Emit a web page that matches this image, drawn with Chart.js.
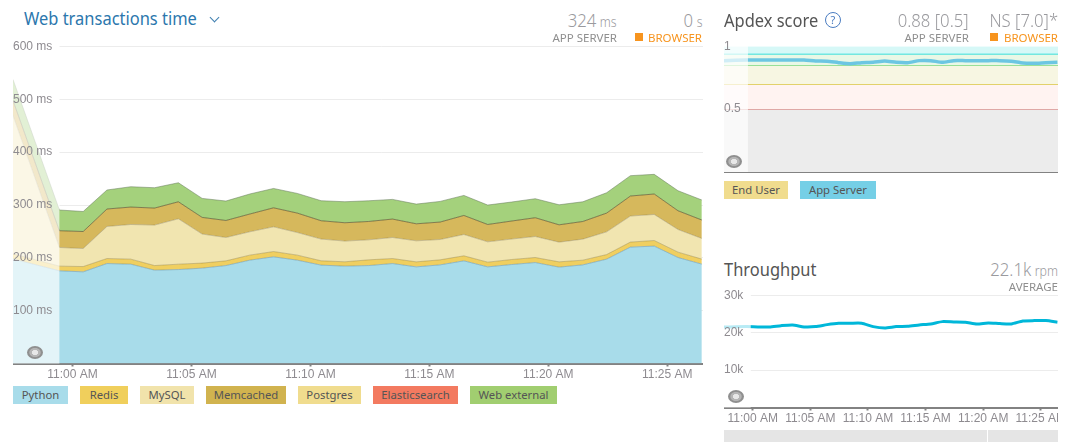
<!DOCTYPE html>
<html><head><meta charset="utf-8">
<script src="https://cdn.jsdelivr.net/npm/chart.js@4"></script>
<style>
html,body{margin:0;padding:0;background:#fff;overflow:hidden;width:1071px;height:442px}
body{font-family:"Noto Sans",sans-serif;position:relative}
.a{position:absolute;white-space:nowrap;line-height:1}
canvas{position:absolute;display:block}
.h{font-size:18.5px;color:#555;transform:translateY(-50%) scaleX(.89);transform-origin:left center}
.n{font-size:19px;color:#9a9a9e;font-weight:300;transform:translateY(-50%) scaleX(.88);transform-origin:right center}
.n small{font-size:14px;margin-left:4px}
.l{font-size:11.5px;color:#8f8f8f;transform:translateY(-50%)}
.o{color:#f7941e}
.sq{position:absolute;width:8px;height:8px;background:#f7941e}
.chip{position:absolute;height:18px;line-height:18px;text-align:center;font-size:11.3px;color:#555;white-space:nowrap}
.eye{position:absolute;width:16px;height:13px;border-radius:50%;background:radial-gradient(ellipse at center,#e8e8e8 0 25%,#b5b5b5 30% 45%,#8f8f8f 55%)}
</style></head><body>
<canvas id="c1" width="690" height="349" style="left:13px;top:36px"></canvas>
<canvas id="c2" width="334" height="140" style="left:724px;top:36px"></canvas>
<canvas id="c3" width="334" height="145" style="left:724px;top:285px"></canvas>

<div class="a h" style="left:24px;top:18px;color:#2b77ad">Web transactions time</div>
<div class="a" style="left:211px;top:14px;width:6px;height:6px;border-right:1.2px solid #3f7fb0;border-bottom:1.2px solid #3f7fb0;transform:rotate(45deg)"></div>
<div class="a n" style="right:454px;top:20px">324<small>ms</small></div>
<div class="a n" style="right:369px;top:20px">0<small>s</small></div>
<div class="a l" style="right:454px;top:38px">APP SERVER</div>
<div class="sq" style="left:635px;top:33px"></div>
<div class="a l o" style="right:369px;top:38px">BROWSER</div>

<div class="a h" style="left:724px;top:20px">Apdex score</div>
<div class="a" style="left:825px;top:12px;width:14px;height:14px;border:1.2px solid #4a7cc0;border-radius:50%;color:#4a7cc0;font-size:11px;line-height:14px;text-align:center">?</div>
<div class="a n" style="right:102px;top:20px">0.88 [0.5]</div>
<div class="a n" style="right:13px;top:20px">NS [7.0]*</div>
<div class="a l" style="right:102px;top:38px">APP SERVER</div>
<div class="sq" style="left:990px;top:33px"></div>
<div class="a l o" style="right:13px;top:38px">BROWSER</div>

<div class="a h" style="left:724px;top:269px">Throughput</div>
<div class="a n" style="right:13px;top:269px">22.1k<small>rpm</small></div>
<div class="a l" style="right:13px;top:287px">AVERAGE</div>

<div class="eye" style="left:27px;top:346px"></div>
<div class="eye" style="left:726px;top:155px"></div>
<div class="eye" style="left:728px;top:390px"></div>
<div id="legend1"></div><div id="legend2"></div>
<div style="position:absolute;left:724px;top:430px;width:263px;height:12px;background:#e5e5e5"></div>
<div style="position:absolute;left:988px;top:430px;width:70px;height:12px;background:#e5e5e5"></div>

<script>
// ---------- data (minutes relative to 11:00 AM) ----------
const minutes = [-2.5,-0.55,0.45,1.45,2.45,3.45,4.45,5.45,6.45,7.45,8.45,9.45,10.45,11.45,12.45,13.45,14.45,15.45,16.45,17.45,18.45,19.45,20.45,21.45,22.45,23.45,24.45,25.45,26.45];
const python = [198,175.4,173.5,189.2,188,176.7,177.8,180.5,185.4,195.6,201.9,195.6,186.2,184.3,185.4,189.2,182.9,186.7,194.3,182.9,187.3,191.1,182.4,186.7,197.5,220.3,222.2,200.6,188.1];
const redis = [9.5,8.9,10,9.5,9.5,8.7,10.2,9.5,8.9,9.5,10,9.5,8.2,8.2,10.8,9.5,9.5,9.5,9.5,8.9,9.5,9.5,10,8.9,8.7,9.5,10.6,10.2,9.5];
const mysql = [262,35.3,34.1,60.7,65.6,76.6,85.9,55,44.2,44.2,46.8,42.8,41.1,39.2,37.9,39.8,39.8,38.5,40.4,38.5,38.7,39.8,37.3,39.8,43,49.3,49.3,42.8,39.1];
const memcached = [28,31.7,32.2,33,33,32.2,32.2,31.5,32.2,33.6,36,36.8,34.7,34.7,34.7,34.9,32.2,33,36,32.8,34.1,35.5,32.8,33.4,35.5,37.9,38.7,35.5,34.9];
const postgres = [0,0,0,0,0,0,0,0,0,0,0,0,0,0,0,0,0,0,0,0,0,0,0,0,0,0,0,0,0];
const elasticsearch = [0,0,0,0,0,0,0,0,0,0,0,0,0,0,0,0,0,0,0,0,0,0,0,0,0,0,0,0,0];
const webExternal = [40,39.2,37.9,36,38.5,38.5,36,36,36.8,37.9,36.6,37.2,37.9,39.8,39.2,37.2,37.3,39.1,37.9,36.8,36,36,37.9,37.3,38.5,38.5,37.2,37.9,37.9];
const apdexAppServer = [0.886,0.891,0.891,0.891,0.891,0.891,0.891,0.883,0.881,0.870,0.862,0.870,0.873,0.883,0.873,0.870,0.886,0.886,0.873,0.886,0.886,0.886,0.886,0.886,0.881,0.867,0.865,0.870,0.873];
const throughputK = [21.5,21.63,21.55,21.55,21.89,22.08,21.55,21.63,22.16,22.53,22.53,22.53,21.63,21.28,21.63,21.73,22.08,22.35,22.96,22.88,22.8,22.35,22.61,22.43,22.35,23.15,23.23,23.23,22.8];
const apdexBands = [0.5,0.7,0.85,0.94,1];
const transactionTicks = [100,200,300,400,500,600];
const tickFont = {family:'"Liberation Sans",Arial,sans-serif',size:12};
const tickGray = '#8e8b90';

const minuteLabel = v => { const m = ((v%60)+60)%60; return '11:'+String(m).padStart(2,'0')+' AM'; };
const pts = arr => arr.map((v,i)=>({x:minutes[i],y:v}));

// paints the horizontal grid only right of the faded region, then fades that region
const fadePlugin = {
  id:'fade',
  beforeDatasetsDraw(ch,a,o){
    const {ctx,chartArea:c,scales:{x,y}} = ch;
    if(!o.grid) return;
    const l = x.getPixelForValue(o.until);
    ctx.save();ctx.strokeStyle=o.grid;ctx.lineWidth=1;
    y.ticks.forEach(t=>{ if(t.value===0) return;
      const p=Math.floor(y.getPixelForValue(t.value))+0.5;
      ctx.beginPath();ctx.moveTo(l,p);ctx.lineTo(c.right,p);ctx.stroke();});
    ctx.restore();
  },
  afterDatasetsDraw(ch,a,o){
    const {ctx,chartArea:c,scales:{x}} = ch;
    ctx.save();ctx.fillStyle='rgba(255,255,255,'+o.alpha+')';
    ctx.fillRect(c.left,c.top-1,x.getPixelForValue(o.until)-c.left,c.bottom-c.top+1);
    ctx.restore();
  }
};
Chart.register(fadePlugin);

function xAxis(labels,h){return{
  type:'linear',min:-2.5,max:26.5,
  border:{color:'#828282',width:2},
  grid:{drawOnChartArea:false,drawTicks:labels,tickLength:3,tickColor:'#828282',tickWidth:2},
  afterFit(s){s.height=h;s.paddingLeft=0;s.paddingRight=0;},
  ticks:{display:labels,stepSize:5,includeBounds:false,maxRotation:0,autoSkip:false,padding:1,font:tickFont,color:tickGray,callback:minuteLabel}
};}
function yAxis(max,step,cb){return{
  min:0,max:max,stacked:false,position:'left',
  border:{display:false},grid:{display:false},
  afterFit(s){s.width=0;s.paddingTop=0;s.paddingBottom=0;},
  ticks:{mirror:true,padding:0,z:1,stepSize:step,includeBounds:false,font:tickFont,color:tickGray,callback:cb}
};}
const base = {responsive:false,animation:false,devicePixelRatio:1,events:[]};

// ---------- Web transactions time ----------
const stackDefs = [
  ['Python',python,'#a8dcea','rgba(90,130,150,.45)'],
  ['Redis',redis,'#f0cf60','rgba(120,110,60,.35)'],
  ['MySQL',mysql,'#f1e5b0','rgba(120,110,70,.35)'],
  ['Memcached',memcached,'#d6b85c','rgba(70,70,40,.6)'],
  ['Postgres',postgres,'#f0dc8e',null],
  ['Elasticsearch',elasticsearch,'#f37a60',null],
  ['Web external',webExternal,'#a4d17c','rgba(100,120,90,.5)']
];
const yStack = yAxis(600,100,v=>transactionTicks.includes(v)?v+' ms':'');
yStack.stacked = true;
new Chart(document.getElementById('c1'),{type:'line',
  data:{datasets:stackDefs.map((d,i)=>({label:d[0],data:pts(d[1]),backgroundColor:d[2],
    borderColor:d[3]||'transparent',borderWidth:d[3]?1:0,pointRadius:0,tension:0,fill:i===0?'origin':'-1'}))},
  options:{...base,layout:{padding:{top:10.5,left:0,right:0,bottom:0}},
    plugins:{legend:{display:false},tooltip:{enabled:false},fade:{until:-0.55,alpha:.68,grid:'#ececec'}},
    scales:{x:xAxis(true,21.5),y:yStack}}});

// ---------- Apdex ----------
const bandFill = ['#ececec','#fff3f1','#f7f6e2','#e9f8e6','#d6f8f7'];
const bandLine = ['#d58f8c','#d8c63c','#7dd87d','#00d6d6','transparent'];
const xEnds = [-2.5,26.5];
const bandSets = apdexBands.map((b,i)=>({label:'band'+b,data:xEnds.map(x=>({x,y:b})),pointRadius:0,
  borderColor:bandLine[i],borderWidth:i===4?0:1.5,backgroundColor:bandFill[i],
  fill:{target:{value:i===0?0:apdexBands[i-1]}},order:10-i}));
new Chart(document.getElementById('c2'),{type:'line',
  data:{datasets:[...bandSets,
    {label:'App Server',data:pts(apdexAppServer),borderColor:'#6cc6e2',borderWidth:3.5,pointRadius:0,tension:.2,fill:false,order:0}]},
  options:{...base,layout:{padding:{top:10.3}},
    plugins:{legend:{display:false},tooltip:{enabled:false},fade:{until:-0.42,alpha:.68}},
    scales:{x:xAxis(false,4),y:yAxis(1,0.5,v=>v===0?'':String(v))}}});

// ---------- Throughput ----------
new Chart(document.getElementById('c3'),{type:'line',
  data:{datasets:[{label:'Throughput',data:pts(throughputK),borderColor:'#00b7d9',borderWidth:3,pointRadius:0,tension:.2,fill:false}]},
  options:{...base,layout:{padding:{top:10.3}},
    plugins:{legend:{display:false},tooltip:{enabled:false},fade:{until:-0.18,alpha:.72,grid:'#ececec'}},
    scales:{x:xAxis(true,22.5),y:yAxis(30,10,v=>v===0?'':v+'k')}}});

// ---------- legends ----------
const legendOne = ['Python','Redis','MySQL','Memcached','Postgres','Elasticsearch','Web external'];
const legendOneColors = ['#a8dcea','#f0cf5c','#f1e3ab','#d1b34f','#f0dc8e','#f37a60','#a1ce70'];
const legendOneWidths = [55,48,54,80,63,85,87];
const legendTwo = ['End User','App Server'];
const legendTwoColors = ['#f0dc8e','#75cfe6'];
const legendTwoWidths = [64,76];
function chips(host,names,cols,ws,x0,top){let x=x0;names.forEach((n,i)=>{
  const d=document.createElement('div');d.className='chip';d.textContent=n;
  d.style.cssText='left:'+x+'px;top:'+top+'px;width:'+ws[i]+'px;background:'+cols[i];
  host.appendChild(d);x+=ws[i]+12;});}
chips(document.getElementById('legend1'),legendOne,legendOneColors,legendOneWidths,13,386);
chips(document.getElementById('legend2'),legendTwo,legendTwoColors,legendTwoWidths,724,181);
</script>
</body></html>
